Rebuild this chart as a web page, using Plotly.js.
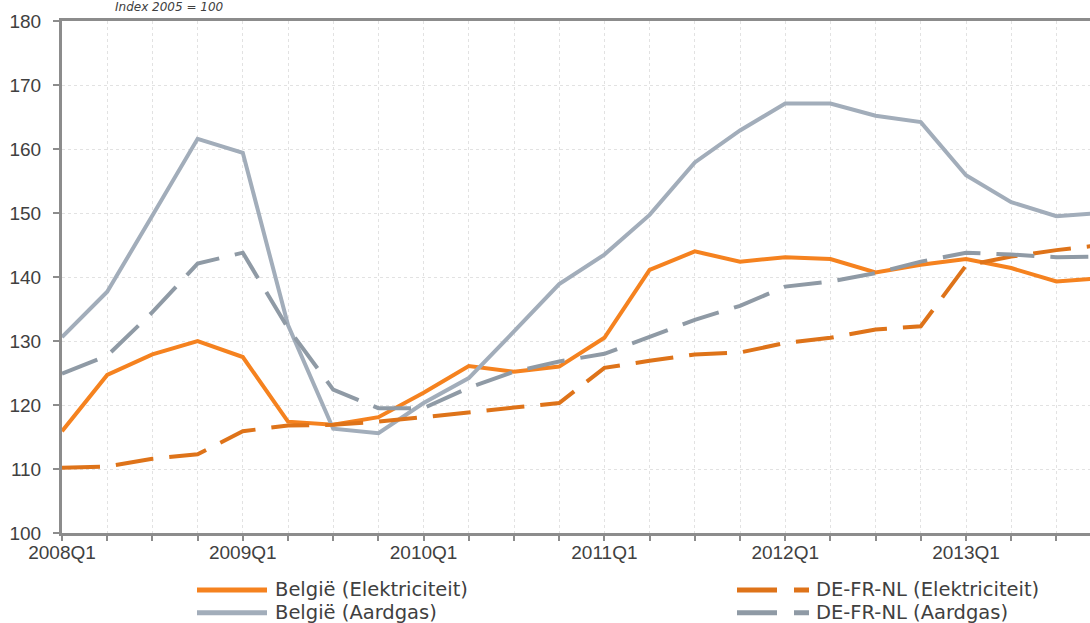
<!DOCTYPE html>
<html>
<head>
<meta charset="utf-8">
<script src="https://cdn.plot.ly/plotly-3.0.1.min.js"></script>
<style>
  html, body { margin: 0; padding: 0; background: #ffffff; overflow: hidden; }
  #chart { width: 1090px; height: 623px; }
</style>
</head>
<body>
<div id="chart"></div>
<script>
// ---- Data ----
const quarters = [
  '2008Q1','2008Q2','2008Q3','2008Q4',
  '2009Q1','2009Q2','2009Q3','2009Q4',
  '2010Q1','2010Q2','2010Q3','2010Q4',
  '2011Q1','2011Q2','2011Q3','2011Q4',
  '2012Q1','2012Q2','2012Q3','2012Q4',
  '2013Q1','2013Q2','2013Q3','2013Q4'
];
const tickLabels = [
  '2008Q1','','','',
  '2009Q1','','','',
  '2010Q1','','','',
  '2011Q1','','','',
  '2012Q1','','','',
  '2013Q1','','',''
];
const belgieElek = [115.9, 124.7, 127.9, 130.0, 127.5, 117.4, 116.9, 118.1, 121.9, 126.1, 125.2, 126.0,
                    130.5, 141.1, 144.0, 142.4, 143.1, 142.8, 140.7, 141.9, 142.8, 141.4, 139.3, 139.8];
const belgieGas  = [130.6, 137.7, 149.6, 161.6, 159.4, 132.5, 116.3, 115.6, 120.3, 124.2, 131.5, 138.9,
                    143.5, 149.7, 157.9, 162.9, 167.1, 167.1, 165.2, 164.2, 155.9, 151.7, 149.5, 150.0];
const defrnlElek = [110.2, 110.4, 111.6, 112.3, 115.9, 116.8, 116.9, 117.4, 118.1, 118.9, 119.6, 120.3,
                    125.8, 126.9, 127.9, 128.2, 129.7, 130.5, 131.8, 132.3, 141.8, 143.2, 144.2, 145.0];
const defrnlGas  = [124.9, 127.7, 134.5, 142.1, 143.8, 132.0, 122.4, 119.5, 119.5, 122.7, 125.2, 126.8,
                    128.0, 130.7, 133.3, 135.5, 138.5, 139.3, 140.6, 142.4, 143.8, 143.5, 143.1, 143.2];
const seriesNames = ['België (Elektriciteit)', 'België (Aardgas)', 'DE-FR-NL (Elektriciteit)', 'DE-FR-NL (Aardgas)'];
const subtitle = 'Index 2005 = 100';

// ---- Styling ----
const colors = ['#F5821F', '#A2ADBA', '#DE7319', '#8F9AA5'];
const dashes = ['solid', 'solid', '38px,16px', '38px,16px'];
const W = 1090, H = 623;
const M = {l: 62, r: 0, t: 21, b: 90};
const plotW = W - M.l - M.r, plotH = H - M.t - M.b;
const px2x = px => (px - M.l) / plotW;
const py2y = py => (H - M.b - py) / plotH;

const seriesData = [belgieElek, belgieGas, defrnlElek, defrnlGas];
const traces = seriesData.map((ys, i) => ({
  type: 'scatter', mode: 'lines',
  x: quarters, y: ys, name: seriesNames[i],
  line: {color: colors[i], width: 4, dash: dashes[i]},
  showlegend: false, hoverinfo: 'skip'
}));

// Custom legend (two columns, as in the reference)
const legendPos = [
  {x0: 197, x1: 267, y: 590,   tx: 273, ty: 589.5},
  {x0: 197, x1: 267, y: 612.7, tx: 273, ty: 612.5},
  {x0: 737, x1: 809, y: 590,   tx: 814, ty: 589.5},
  {x0: 737, x1: 809, y: 612.7, tx: 814, ty: 612.5}
];
const legendDash = ['solid', 'solid', '40px,17px', '40px,17px'];
const shapes = legendPos.map((p, i) => ({
  type: 'line', xref: 'paper', yref: 'paper',
  x0: px2x(p.x0), x1: px2x(p.x1), y0: py2y(p.y), y1: py2y(p.y),
  line: {color: colors[i], width: 5, dash: legendDash[i]}
}));
const annotations = legendPos.map((p, i) => ({
  xref: 'paper', yref: 'paper', x: px2x(p.tx), y: py2y(p.ty),
  xanchor: 'left', yanchor: 'middle', showarrow: false,
  text: seriesNames[i],
  font: {family: 'DejaVu Sans', size: 19.5, color: '#404040'}
}));
annotations.push({
  xref: 'paper', yref: 'paper', x: px2x(113), y: py2y(6.5),
  xanchor: 'left', yanchor: 'middle', showarrow: false,
  text: '<i>' + subtitle + '</i>',
  font: {family: 'DejaVu Sans', size: 12, color: '#404040'}
});

const layout = {
  width: W, height: H,
  margin: M,
  paper_bgcolor: '#ffffff', plot_bgcolor: '#ffffff',
  showlegend: false,
  font: {family: 'Liberation Sans', color: '#404040'},
  xaxis: {
    type: 'category',
    range: [0, (W - M.l) / 45.2],
    tickmode: 'array', tickvals: quarters, ticktext: tickLabels,
    ticks: 'outside', ticklen: 5, tickwidth: 2, tickcolor: '#8C8C8C',
    ticklabelstandoff: -5,
    showline: true, linecolor: '#8C8C8C', linewidth: 3, mirror: true,
    showgrid: true, gridcolor: '#E2E2E2', gridwidth: 1, griddash: '3px,3px',
    tickfont: {family: 'Liberation Sans', size: 19, color: '#404040'},
    zeroline: false, fixedrange: true
  },
  yaxis: {
    range: [100, 180], dtick: 10, tick0: 100,
    ticks: 'outside', ticklen: 6, tickwidth: 2, tickcolor: '#8C8C8C',
    showline: true, linecolor: '#8C8C8C', linewidth: 3,
    showgrid: true, gridcolor: '#E2E2E2', gridwidth: 1, griddash: '3px,3px',
    tickfont: {family: 'Liberation Sans', size: 19, color: '#404040'},
    ticklabelstandoff: 8,
    zeroline: false, fixedrange: true
  },
  shapes: shapes,
  annotations: annotations
};

Plotly.newPlot('chart', traces, layout, {displayModeBar: false, staticPlot: true});
</script>
</body>
</html>
